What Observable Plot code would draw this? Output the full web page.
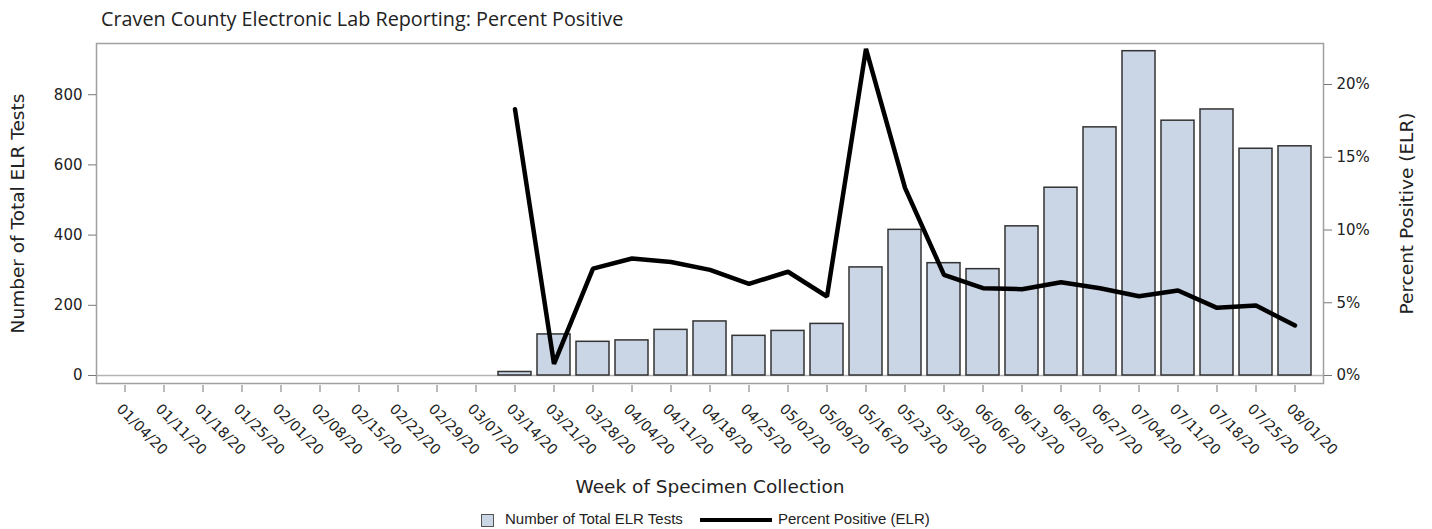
<!DOCTYPE html>
<html><head><meta charset="utf-8">
<script src="https://cdn.jsdelivr.net/npm/d3@7"></script>
<script src="https://cdn.jsdelivr.net/npm/@observablehq/plot@0.6"></script>
<style>
body{margin:0;background:#fff;width:1432px;overflow:hidden;}
#title{height:36px;box-sizing:border-box;padding:6px 0 0 101px;font:19.8px "Open Sans";color:#222;line-height:26px;white-space:nowrap}
#chart svg{display:block}
#legend{height:29px;position:relative;font:15px "Liberation Sans";color:#222}
#legend .sw{position:absolute;left:481px;top:14px;width:11px;height:11px;background:#cad5e5;border:1px solid #555}
#legend .t1{position:absolute;left:505px;top:10px;line-height:18px;white-space:nowrap}
#legend .ln{position:absolute;left:700px;top:18px;width:72px;height:4px;background:#000}
#legend .t2{position:absolute;left:778px;top:10px;line-height:18px;white-space:nowrap}
</style></head><body>
<div id="title">Craven County Electronic Lab Reporting: Percent Positive</div>
<div id="chart"></div>
<div id="legend"><div class="sw"></div><span class="t1">Number of Total ELR Tests</span><div class="ln"></div><span class="t2">Percent Positive (ELR)</span></div>
<script>
const weeks = ["01/04/20","01/11/20","01/18/20","01/25/20","02/01/20","02/08/20","02/15/20","02/22/20","02/29/20","03/07/20",
  "03/14/20","03/21/20","03/28/20","04/04/20","04/11/20","04/18/20","04/25/20","05/02/20","05/09/20","05/16/20",
  "05/23/20","05/30/20","06/06/20","06/13/20","06/20/20","06/27/20","07/04/20","07/11/20","07/18/20","07/25/20","08/01/20"];
const totalTests = [null,null,null,null,null,null,null,null,null,null,
  10,117,96,100,130,154,113,127,147,308,
  415,320,303,425,535,707,924,726,758,646,653];
const percentPositive = [null,null,null,null,null,null,null,null,null,null,
  18.3,0.8,7.35,8.04,7.8,7.26,6.3,7.13,5.43,22.45,
  12.9,6.92,6.0,5.93,6.41,6.0,5.45,5.84,4.65,4.81,3.44];
const leftTicks = [0,200,400,600,800];
const rightTicks = [0,5,10,15,20];
const leftDomain = [-22.8, 945.9];
const unitsPerPercent = 41.45;

const rows = weeks.map((w,i)=>({week:w, tests:totalTests[i], pct:percentPositive[i]}));
const barRows = rows.filter(d=>d.tests!=null);
const lineRows = rows.filter(d=>d.pct!=null);

const chart = Plot.plot({
  width:1432, height:464,
  marginLeft:96, marginRight:109, marginTop:7, marginBottom:117,
  x:{type:"band", domain:weeks, paddingInner:0.147, paddingOuter:0.283},
  y:{domain:leftDomain},
  style:{fontFamily:"DejaVu Sans", fontSize:"15px", color:"#222", background:"#fff", overflow:"visible"},
  marks:[
    Plot.ruleY([0], {stroke:"#b4b4b4", strokeWidth:1.5}),
    Plot.barY(barRows, {x:"week", y:"tests", fill:"#cad5e5", stroke:"#333", strokeWidth:1.5}),
    Plot.frame({stroke:"#a0a0a0", strokeWidth:1.5}),
    Plot.lineY(lineRows, {x:"week", y:d=>d.pct*unitsPerPercent, stroke:"#000", strokeWidth:4.5, strokeLinejoin:"miter"}),
    Plot.axisY(leftTicks, {anchor:"left", tickSize:8, tickPadding:6, stroke:"#777", fill:"#222", fontSize:15, label:null}),
    Plot.axisY(rightTicks.map(p=>p*unitsPerPercent), {anchor:"right", tickSize:8, tickPadding:5, stroke:"#777", fill:"#222", fontSize:15, tickFormat:d=>Math.round(d/unitsPerPercent)+"%", label:null}),
    Plot.axisX({anchor:"bottom", tickSize:7, dy:2, stroke:"#777", tickFormat:()=>"", label:null}),
    Plot.axisX({anchor:"bottom", tickSize:0, tickRotate:45, tickPadding:23, dx:-6, fill:"#222", fontSize:14.5, label:null}),
    Plot.text(["Number of Total ELR Tests"], {frameAnchor:"left", textAnchor:"middle", lineAnchor:"middle", dx:-78, rotate:-90, fontSize:18.5, fill:"#222"}),
    Plot.text(["Percent Positive (ELR)"], {frameAnchor:"right", textAnchor:"middle", lineAnchor:"middle", dx:84, rotate:-90, fontSize:18.5, fill:"#222"}),
    Plot.text(["Week of Specimen Collection"], {frameAnchor:"bottom", lineAnchor:"middle", dy:104, fontSize:18.5, fill:"#222"})
  ]
});
document.getElementById("chart").appendChild(chart);
</script>
</body></html>
